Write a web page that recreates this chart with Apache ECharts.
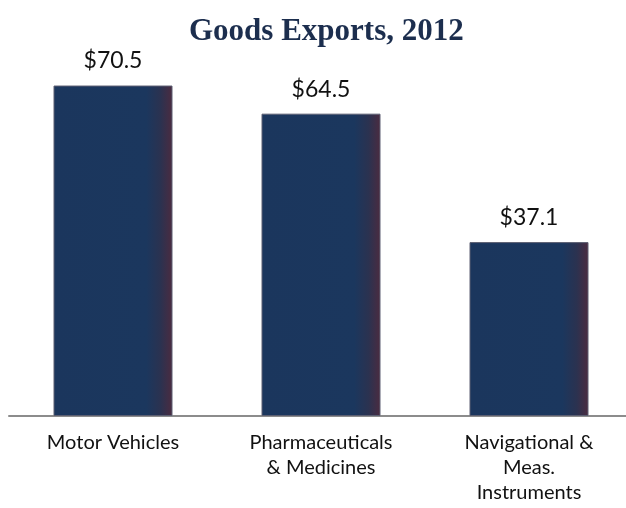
<!DOCTYPE html>
<html>
<head>
<meta charset="utf-8">
<script src="https://cdn.jsdelivr.net/npm/echarts@6/dist/echarts.min.js"></script>
<style>
html,body{margin:0;padding:0;background:#fff;overflow:hidden;}
#main{width:633px;height:508px;}
</style>
</head>
<body>
<div id="main"></div>
<script>
// 数据
var categories = ['Motor Vehicles', 'Pharmaceuticals\n& Medicines', 'Navigational &\nMeas.\nInstruments'];
var exportsValues = [70.5, 64.5, 37.1];

var myChart = echarts.init(document.getElementById('main'));

/*柱子颜色：右侧渐变成暗紫色*/
var barColor = new echarts.graphic.LinearGradient(0, 0, 1, 0, [
	{offset: 0, color: '#1b365d'},
	{offset: 0.78, color: '#1b375e'},
	{offset: 0.9, color: '#2b3250'},
	{offset: 1, color: '#4b2b40'}
]);

var option = {
	animation: false,
	title: {
		text: 'Goods Exports, 2012',
		left: 184,
		top: 11,
		textStyle: {
			fontFamily: 'Liberation Serif',
			fontWeight: 'bold',
			fontSize: 31,
			color: '#1c2e4e'
		}
	},
	grid: {
		left: 9,
		right: 0,
		top: 41,
		bottom: 92,
		containLabel: false
	},
	xAxis: {
		type: 'category',
		data: categories,
		axisLine: {lineStyle: {color: '#8c8c8c', width: 2}},
		axisTick: {show: false},
		axisLabel: {
			fontFamily: 'Lato',
			fontSize: 20,
			color: '#111',
			lineHeight: 25,
			margin: 14,
			interval: 0
		}
	},
	yAxis: {
		type: 'value',
		min: 0,
		max: 80,
		show: false,
		splitLine: {show: false}
	},
	series: [{
		type: 'bar',
		data: exportsValues,
		barWidth: 119,
		itemStyle: {
			color: barColor,
			borderColor: '#5c5f72',
			borderWidth: 1
		},
		label: {
			show: true,
			position: 'top',
			distance: 13,
			fontFamily: 'Lato',
			fontSize: 23,
			color: '#111',
			formatter: function (p) { return '$' + p.value.toFixed(1); }
		}
	}]
};
myChart.setOption(option);
</script>
</body>
</html>
